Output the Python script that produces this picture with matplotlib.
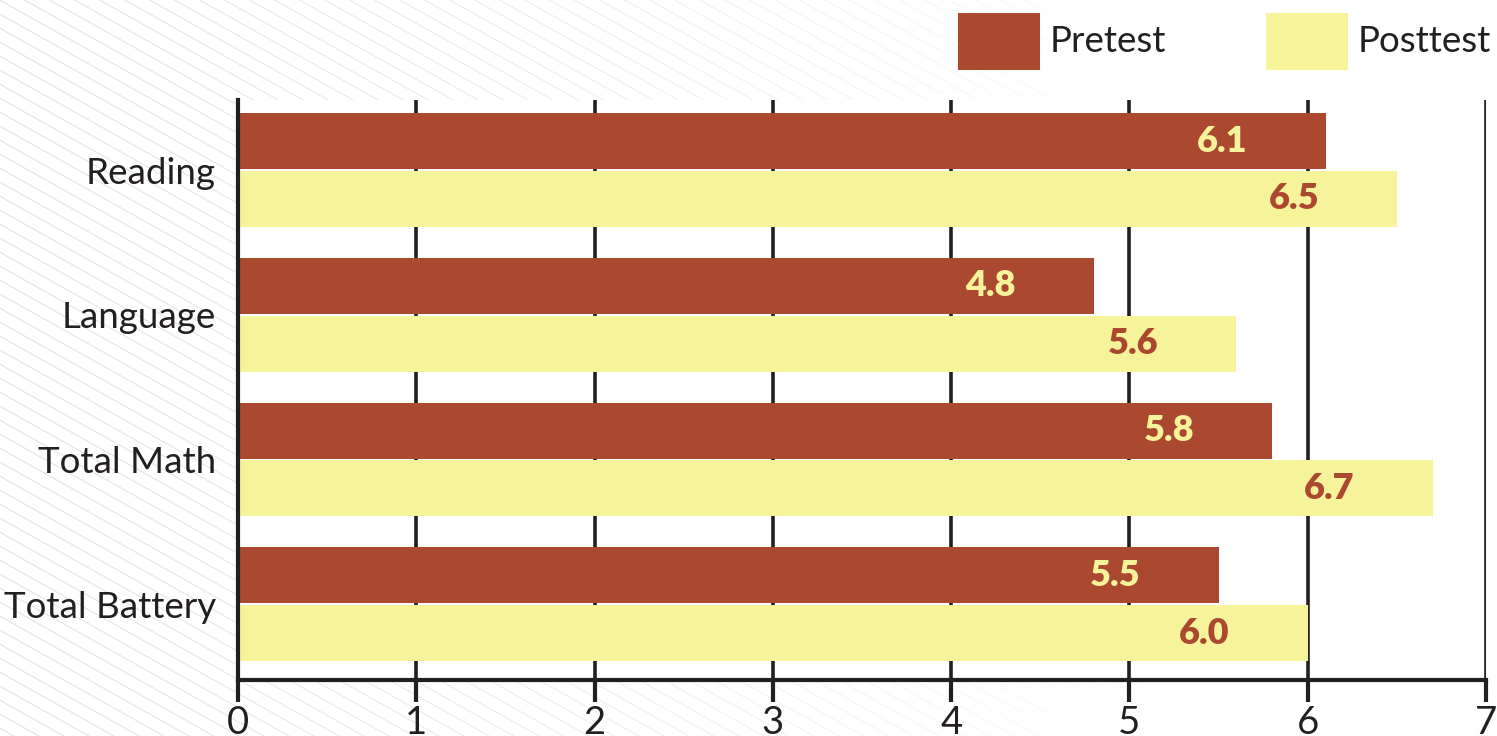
import numpy as np
import matplotlib
matplotlib.use("Agg")
import matplotlib.pyplot as plt
from matplotlib.patches import Rectangle

plt.rcParams['font.family'] = ['Lato', 'DejaVu Sans']

# Data
categories = ["Reading", "Language", "Total Math", "Total Battery"]
pretest = [6.1, 4.8, 5.8, 5.5]
posttest = [6.5, 5.6, 6.7, 6.0]
series_names = ["Pretest", "Posttest"]
x_ticks = [0, 1, 2, 3, 4, 5, 6, 7]

PRE_COLOR = "#AA4830"
POST_COLOR = "#F7F39B"
INK = "#231F20"

W, H, DPI = 1497, 736, 100
fig = plt.figure(figsize=(W / DPI, H / DPI), dpi=DPI)
fig.patch.set_facecolor("white")

# Faint diagonal pinstripe backdrop, fading out toward the right
yy, xx = np.mgrid[0:H, 0:W].astype(float)
period = 14.0
phase = np.mod(yy - 0.56 * xx, period)
dist = np.minimum(phase, period - phase)
stripe = np.clip(1.2 - dist / 0.9, 0, 1)
fade = np.clip(1.0 - xx / 1150.0, 0, 1) ** 0.8
shade = 1.0 - 0.11 * stripe * fade
bg = np.dstack([shade, shade, shade])
bg_ax = fig.add_axes([0, 0, 1, 1], zorder=-10)
bg_ax.imshow(bg, aspect="auto", interpolation="bilinear")
bg_ax.axis("off")

# Main bar axes
left, right = 238 / W, 1486 / W
bottom, top = (H - 680) / H, (H - 100) / H
ax = fig.add_axes([left, bottom, right - left, top - bottom])
ax.set_facecolor("white")

idx = np.arange(len(categories))
bar_h = 0.387
off = 0.2
b1 = ax.barh(idx - off, pretest, height=bar_h, color=PRE_COLOR, zorder=3)
b2 = ax.barh(idx + off, posttest, height=bar_h, color=POST_COLOR, zorder=3)

ax.set_xlim(0, 7)
ax.set_ylim(3.524, -0.484)

# Vertical grid lines
for xv in x_ticks[1:]:
    ax.axvline(xv, color=INK, lw=2.6, zorder=1)

ax.set_xticks(x_ticks)
ax.set_xticklabels([str(t) for t in x_ticks], fontsize=27.5, color=INK)
ax.tick_params(axis="x", length=16, width=3, color=INK, pad=2, direction="out")
ax.set_yticks(idx)
ax.set_yticklabels(categories, fontsize=26.5, color=INK)
ax.tick_params(axis="y", length=0, pad=16)

for s in ["top", "right"]:
    ax.spines[s].set_visible(False)
for s in ["left", "bottom"]:
    ax.spines[s].set_linewidth(3)
    ax.spines[s].set_color(INK)
    ax.spines[s].set_zorder(4)

# Value labels inside bar ends
pad_pts = -56
for rect, v in zip(b1, pretest):
    ax.annotate(f"{v:.1f}", xy=(v, rect.get_y() + rect.get_height() / 2),
                xytext=(pad_pts, 0), textcoords="offset points",
                ha="right", va="center", fontsize=26, fontweight="heavy",
                color=POST_COLOR, zorder=5)
for rect, v in zip(b2, posttest):
    ax.annotate(f"{v:.1f}", xy=(v, rect.get_y() + rect.get_height() / 2),
                xytext=(pad_pts, 0), textcoords="offset points",
                ha="right", va="center", fontsize=26, fontweight="heavy",
                color=PRE_COLOR, zorder=5)

# Legend
for name, color, x0 in zip(series_names, [PRE_COLOR, POST_COLOR], [958, 1266]):
    fig.add_artist(Rectangle((x0 / W, (H - 70) / H), 82 / W, 57 / H,
                             transform=fig.transFigure, color=color, lw=0))
    fig.text((x0 + 92) / W, (H - 42) / H, name, fontsize=26.5, color=INK,
             ha="left", va="center")

fig.savefig("out.png", dpi=DPI, facecolor="white")
